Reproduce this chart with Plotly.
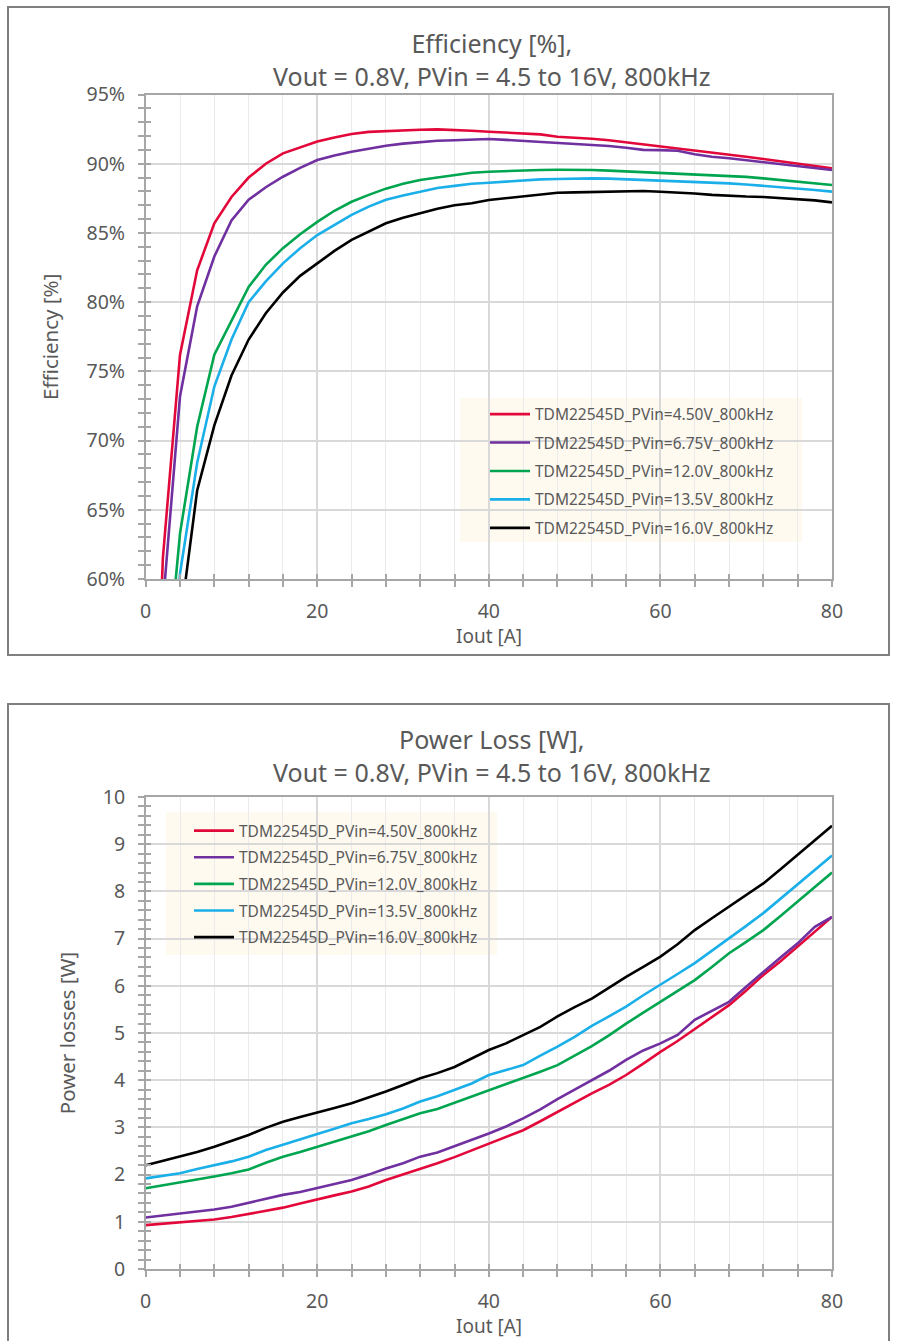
import plotly.graph_objects as go

# ---------------- data ----------------
series_names = [
    "TDM22545D_PVin=4.50V_800kHz",
    "TDM22545D_PVin=6.75V_800kHz",
    "TDM22545D_PVin=12.0V_800kHz",
    "TDM22545D_PVin=13.5V_800kHz",
    "TDM22545D_PVin=16.0V_800kHz",
]
series_colors = ["#E2083A", "#7030A0", "#00A550", "#1AAFE8", "#000000"]

iout_eff = [1, 2, 4, 6, 8, 10, 12, 14, 16, 18, 20, 22, 24, 26, 28, 30, 32, 34, 36, 38, 40,
            42, 44, 46, 48, 50, 52, 54, 56, 58, 60, 62, 64, 66, 68, 70, 72, 74, 76, 78, 80]

eff_450 = [45.0, 61.5, 76.2, 82.3, 85.7, 87.6, 89.0, 90.0, 90.75, 91.2, 91.6, 91.9, 92.15, 92.3, 92.36,
           92.4, 92.45, 92.48, 92.45, 92.38, 92.31, 92.25, 92.18, 92.12, 91.95, 91.9, 91.8, 91.7,
           91.55, 91.42, 91.3, 91.15, 90.95, 90.82, 90.7, 90.5, 90.34, 90.18, 90.03, 89.85, 89.67]
eff_675 = [40.0, 58.1, 73.2, 79.7, 83.3, 85.9, 87.4, 88.3, 89.06, 89.7, 90.27, 90.6, 90.87, 91.1, 91.3,
           91.45, 91.55, 91.66, 91.7, 91.72, 91.78, 91.72, 91.65, 91.59, 91.52, 91.45, 91.35, 91.28,
           91.15, 91.0, 90.98, 90.94, 90.68, 90.5, 90.39, 90.25, 90.1, 89.98, 89.86, 89.7, 89.55]
eff_120 = [35.0, 50.0, 63.3, 71.0, 76.2, 78.7, 81.1, 82.7, 83.9, 84.9, 85.8, 86.6, 87.25, 87.75, 88.2,
           88.55, 88.82, 89.0, 89.15, 89.35, 89.42, 89.48, 89.52, 89.55, 89.56, 89.56, 89.55, 89.5,
           89.45, 89.4, 89.35, 89.3, 89.24, 89.18, 89.13, 89.05, 88.94, 88.82, 88.7, 88.58, 88.46]
eff_135 = [32.0, 46.0, 60.4, 68.4, 73.9, 77.3, 80.0, 81.5, 82.8, 83.9, 84.85, 85.6, 86.3, 86.9, 87.4,
           87.7, 87.98, 88.25, 88.4, 88.55, 88.62, 88.7, 88.8, 88.87, 88.9, 88.93, 88.94, 88.92,
           88.87, 88.85, 88.82, 88.75, 88.68, 88.62, 88.58, 88.5, 88.41, 88.3, 88.2, 88.1, 87.98]
eff_160 = [28.0, 42.0, 56.8, 66.4, 71.1, 74.7, 77.3, 79.2, 80.7, 81.9, 82.8, 83.7, 84.5, 85.1, 85.7,
           86.1, 86.45, 86.75, 87.0, 87.15, 87.38, 87.5, 87.62, 87.74, 87.9, 87.93, 87.96, 87.98,
           88.0, 88.03, 87.98, 87.93, 87.85, 87.75, 87.67, 87.63, 87.6, 87.52, 87.45, 87.35, 87.21]

iout_loss = [0, 2, 4, 6, 8, 10, 12, 14, 16, 18, 20, 22, 24, 26, 28, 30, 32, 34, 36, 38, 40,
             42, 44, 46, 48, 50, 52, 54, 56, 58, 60, 62, 64, 66, 68, 70, 72, 74, 76, 78, 80]

loss_450 = [0.93, 0.96, 1.0, 1.02, 1.05, 1.1, 1.165, 1.23, 1.3, 1.39, 1.48, 1.56, 1.64, 1.75, 1.885,
            2.0, 2.13, 2.24, 2.37, 2.51, 2.66, 2.8, 2.94, 3.13, 3.33, 3.52, 3.72, 3.9, 4.11, 4.35,
            4.6, 4.83, 5.08, 5.33, 5.59, 5.9, 6.23, 6.52, 6.83, 7.15, 7.46]
loss_675 = [1.09, 1.13, 1.165, 1.22, 1.26, 1.32, 1.4, 1.48, 1.57, 1.63, 1.71, 1.8, 1.885, 2.0, 2.13,
            2.24, 2.38, 2.47, 2.6, 2.73, 2.87, 3.02, 3.19, 3.38, 3.6, 3.8, 4.0, 4.2, 4.43, 4.63,
            4.78, 4.96, 5.28, 5.47, 5.66, 5.98, 6.3, 6.6, 6.9, 7.25, 7.46]
loss_120 = [1.71, 1.77, 1.83, 1.9, 1.96, 2.03, 2.11, 2.25, 2.38, 2.48, 2.59, 2.69, 2.8, 2.92, 3.05,
            3.17, 3.3, 3.39, 3.52, 3.65, 3.79, 3.92, 4.04, 4.18, 4.32, 4.52, 4.72, 4.95, 5.2, 5.43,
            5.66, 5.89, 6.12, 6.4, 6.69, 6.93, 7.18, 7.48, 7.78, 8.08, 8.4]
loss_135 = [1.92, 1.97, 2.03, 2.12, 2.2, 2.28, 2.38, 2.52, 2.63, 2.75, 2.86, 2.97, 3.09, 3.18, 3.28,
            3.4, 3.55, 3.66, 3.8, 3.93, 4.11, 4.22, 4.32, 4.52, 4.71, 4.92, 5.15, 5.35, 5.56, 5.8,
            6.02, 6.25, 6.48, 6.74, 7.0, 7.27, 7.54, 7.84, 8.14, 8.45, 8.76]
loss_160 = [2.2, 2.29, 2.38, 2.48, 2.59, 2.71, 2.84, 2.99, 3.12, 3.22, 3.31, 3.41, 3.51, 3.63, 3.76,
            3.9, 4.04, 4.15, 4.28, 4.46, 4.64, 4.78, 4.96, 5.13, 5.35, 5.55, 5.73, 5.96, 6.19, 6.4,
            6.62, 6.88, 7.18, 7.43, 7.68, 7.92, 8.17, 8.47, 8.77, 9.08, 9.39]

eff_series = [eff_450, eff_675, eff_120, eff_135, eff_160]
loss_series = [loss_450, loss_675, loss_120, loss_135, loss_160]

eff_title = "Efficiency [%],<br>Vout = 0.8V, PVin = 4.5 to 16V, 800kHz"
loss_title = "Power Loss [W],<br>Vout = 0.8V, PVin = 4.5 to 16V, 800kHz"
x_title = "Iout [A]"

# ---------------- layout helpers ----------------
W, H = 897, 1341
FONT = "Noto Sans"
TXT = "#595959"
AXC = "#A6A6A6"
GRID = "#D9D9D9"
MINGRID = "#EBEBEB"


def px(x):
    return x / W


def py(y):
    return 1 - y / H


x_dom = [px(145.7), px(832)]
top_dom = [py(579), py(94.5)]
bot_dom = [py(1269), py(797)]

fig = go.Figure()

for name, col, ys in zip(series_names, series_colors, eff_series):
    fig.add_trace(go.Scatter(x=iout_eff, y=ys, name=name, mode="lines",
                             line=dict(color=col, width=2.6),
                             xaxis="x", yaxis="y", legend="legend",
                             legendgroup="e" + name))
for name, col, ys in zip(series_names, series_colors, loss_series):
    fig.add_trace(go.Scatter(x=iout_loss, y=ys, name=name, mode="lines",
                             line=dict(color=col, width=2.6),
                             xaxis="x2", yaxis="y2", legend="legend2",
                             legendgroup="l" + name))

# dummy traces for overlay axes (inside tick marks -> crossing ticks)
for xa, ya in (("x3", "y3"), ("x4", "y4")):
    fig.add_trace(go.Scatter(x=[None], y=[None], xaxis=xa, yaxis=ya,
                             showlegend=False, hoverinfo="skip"))

tickfont = dict(family=FONT, size=19.5, color=TXT)
xtitlefont = dict(family=FONT, size=19, color=TXT)
ytitlefont = dict(family=FONT, size=20.5, color=TXT)


def xaxis_main(anchor):
    return dict(domain=x_dom, anchor=anchor, range=[0, 80], dtick=20, tick0=0,
                showgrid=True, gridcolor=GRID, gridwidth=1.5,
                minor=dict(dtick=4, showgrid=True, gridcolor=MINGRID, gridwidth=1,
                           ticks="outside", ticklen=6, tickcolor=AXC, tickwidth=1.5),
                ticks="outside", ticklen=6, tickcolor=AXC, tickwidth=1.5,
                showline=True, linecolor=AXC, linewidth=1.5, mirror=True,
                zeroline=False, tickfont=tickfont, ticklabelstandoff=8)


def xaxis_overlay(over, anchor):
    return dict(domain=x_dom, overlaying=over, anchor=anchor, range=[0, 80], dtick=4,
                tick0=0, ticks="inside", ticklen=5, tickcolor=AXC, tickwidth=1.5,
                showgrid=False, showline=False, zeroline=False, showticklabels=False)


def yaxis_overlay(over, anchor, dom, rng, dt):
    return dict(domain=dom, overlaying=over, anchor=anchor, range=rng, dtick=dt,
                tick0=0, ticks="inside", ticklen=5, tickcolor=AXC, tickwidth=1.5,
                showgrid=False, showline=False, zeroline=False, showticklabels=False)


layout = dict(
    width=W, height=H, autosize=False, template="none",
    margin=dict(l=0, r=0, t=0, b=0, pad=0),
    paper_bgcolor="white", plot_bgcolor="rgba(0,0,0,0)",
    font=dict(family=FONT, color=TXT),
    hovermode=False,
    xaxis=xaxis_main("y"),
    xaxis2=xaxis_main("y2"),
    xaxis3=xaxis_overlay("x", "y3"),
    xaxis4=xaxis_overlay("x2", "y4"),
    yaxis=dict(domain=top_dom, anchor="x", range=[60, 95], dtick=5, tick0=60,
               ticksuffix="%", showgrid=True, gridcolor=GRID, gridwidth=1.5,
               minor=dict(dtick=1, ticks="outside", ticklen=6, tickcolor=AXC,
                          tickwidth=1.5, showgrid=False),
               ticks="outside", ticklen=6, tickcolor=AXC, tickwidth=1.5,
               showline=True, linecolor=AXC, linewidth=1.5, mirror=True,
               zeroline=False, tickfont=tickfont, ticklabelstandoff=9,
               title=dict(text="Efficiency [%]", font=ytitlefont, standoff=22)),
    yaxis2=dict(domain=bot_dom, anchor="x2", range=[0, 10], dtick=1, tick0=0,
                showgrid=True, gridcolor=GRID, gridwidth=1.5,
                minor=dict(dtick=0.2, ticks="outside", ticklen=6, tickcolor=AXC,
                           tickwidth=1.5, showgrid=False),
                ticks="outside", ticklen=6, tickcolor=AXC, tickwidth=1.5,
                showline=True, linecolor=AXC, linewidth=1.5, mirror=True,
                zeroline=False, tickfont=tickfont, ticklabelstandoff=9,
                title=dict(text="Power losses [W]", font=ytitlefont, standoff=22)),
    yaxis3=yaxis_overlay("y", "x3", top_dom, [60, 95], 1),
    yaxis4=yaxis_overlay("y2", "x4", bot_dom, [0, 10], 0.2),
    legend=dict(x=px(485), y=py(397.5), xanchor="left", yanchor="top",
                bgcolor="rgba(0,0,0,0)", borderwidth=0, tracegroupgap=5.3,
                itemwidth=40, font=dict(family=FONT, size=15.5, color=TXT)),
    legend2=dict(x=px(189), y=py(814), xanchor="left", yanchor="top",
                 bgcolor="rgba(0,0,0,0)", borderwidth=0, tracegroupgap=3.5,
                 itemwidth=40, font=dict(family=FONT, size=15.5, color=TXT)),
    showlegend=True,
    shapes=[
        # chart frames
        dict(type="rect", xref="paper", yref="paper", x0=px(8), x1=px(889),
             y0=py(655), y1=py(7), line=dict(color="#7F7F7F", width=2), layer="below"),
        dict(type="rect", xref="paper", yref="paper", x0=px(8), x1=px(889),
             y0=py(1360), y1=py(704), line=dict(color="#7F7F7F", width=2), layer="below"),
        # legend backgrounds
        dict(type="rect", xref="paper", yref="paper", x0=px(460), x1=px(802),
             y0=py(542), y1=py(398), line=dict(width=0), fillcolor="#FFFAF0", layer="below"),
        dict(type="rect", xref="paper", yref="paper", x0=px(166), x1=px(497),
             y0=py(955), y1=py(812), line=dict(width=0), fillcolor="#FFFAF0", layer="below"),
    ],
    annotations=[
        dict(text=eff_title, xref="paper", yref="paper", x=px(492), y=py(59),
             xanchor="center", yanchor="middle", showarrow=False,
             font=dict(family=FONT, size=25, color=TXT)),
        dict(text=loss_title, xref="paper", yref="paper", x=px(492), y=py(755),
             xanchor="center", yanchor="middle", showarrow=False,
             font=dict(family=FONT, size=25, color=TXT)),
        dict(text=x_title, xref="paper", yref="paper", x=px(489), y=py(636),
             xanchor="center", yanchor="middle", showarrow=False, font=xtitlefont),
        dict(text=x_title, xref="paper", yref="paper", x=px(489), y=py(1326),
             xanchor="center", yanchor="middle", showarrow=False, font=xtitlefont),
    ],
)
fig.update_layout(**layout)
fig.write_html("out.html",
               config={"displayModeBar": False},
               post_script="document.body.style.margin='0px';document.body.style.padding='0px';")
